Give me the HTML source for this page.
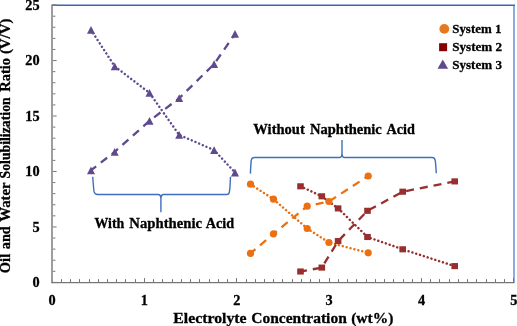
<!DOCTYPE html>
<html><head><meta charset="utf-8"><style>
html,body{margin:0;padding:0;background:#fff;}
svg{display:block;}
</style></head><body>
<svg width="517" height="326" viewBox="0 0 517 326">
<rect width="517" height="326" fill="#fff"/>
<line x1="52.1" y1="5.25" x2="515" y2="5.25" stroke="#3A68B0" stroke-width="1.5"/>
<line x1="514.0" y1="6.0" x2="514.0" y2="282.4" stroke="#8CABE0" stroke-width="2"/>
<path d="M52.1,282.40h4.5 M52.1,271.31h3.3 M52.1,260.22h3.3 M52.1,249.12h3.3 M52.1,238.03h3.3 M52.1,226.94h4.5 M52.1,215.85h3.3 M52.1,204.76h3.3 M52.1,193.66h3.3 M52.1,182.57h3.3 M52.1,171.48h4.5 M52.1,160.39h3.3 M52.1,149.30h3.3 M52.1,138.20h3.3 M52.1,127.11h3.3 M52.1,116.02h4.5 M52.1,104.93h3.3 M52.1,93.84h3.3 M52.1,82.74h3.3 M52.1,71.65h3.3 M52.1,60.56h4.5 M52.1,49.47h3.3 M52.1,38.38h3.3 M52.1,27.28h3.3 M52.1,16.19h3.3 M52.1,5.10h4.5 M52.50,282.4v-4.3 M61.50,282.4v-3.3 M70.50,282.4v-3.3 M79.50,282.4v-3.3 M89.50,282.4v-3.3 M98.50,282.4v-3.3 M107.50,282.4v-3.3 M116.50,282.4v-3.3 M125.50,282.4v-3.3 M135.50,282.4v-3.3 M144.50,282.4v-4.3 M153.50,282.4v-3.3 M162.50,282.4v-3.3 M172.50,282.4v-3.3 M181.50,282.4v-3.3 M190.50,282.4v-3.3 M199.50,282.4v-3.3 M209.50,282.4v-3.3 M218.50,282.4v-3.3 M227.50,282.4v-3.3 M236.50,282.4v-4.3 M246.50,282.4v-3.3 M255.50,282.4v-3.3 M264.50,282.4v-3.3 M273.50,282.4v-3.3 M282.50,282.4v-3.3 M292.50,282.4v-3.3 M301.50,282.4v-3.3 M310.50,282.4v-3.3 M319.50,282.4v-3.3 M329.50,282.4v-4.3 M338.50,282.4v-3.3 M347.50,282.4v-3.3 M356.50,282.4v-3.3 M366.50,282.4v-3.3 M375.50,282.4v-3.3 M384.50,282.4v-3.3 M393.50,282.4v-3.3 M403.50,282.4v-3.3 M412.50,282.4v-3.3 M421.50,282.4v-4.3 M430.50,282.4v-3.3 M439.50,282.4v-3.3 M449.50,282.4v-3.3 M458.50,282.4v-3.3 M467.50,282.4v-3.3 M476.50,282.4v-3.3 M486.50,282.4v-3.3 M495.50,282.4v-3.3 M504.50,282.4v-3.3 M513.50,282.4v-4.3" stroke="#777777" stroke-width="1"/>
<line x1="52.0" y1="4.5" x2="52.0" y2="283.2" stroke="#999999" stroke-width="1.9"/>
<line x1="52.0" y1="5.25" x2="56.8" y2="5.25" stroke="#7A7A7A" stroke-width="1.5"/>
<line x1="51.7" y1="282.6" x2="514.5" y2="282.6" stroke="#777777" stroke-width="1.3"/>
<path d="M92.7,176.8 Q93.6,189 94.1,191.9 Q94.8,194.5 97.5,194.5 L158.2,194.5 Q160.9,194.5 160.9,198.8 L160.9,212.2 M160.9,198.8 Q160.9,194.5 163.6,194.5 L226.9,194.5 Q229.0,194.5 229.4,191.9 Q230,189 230.5,176.8" fill="none" stroke="#3E6FBF" stroke-width="1.4"/>
<path d="M250.4,173.6 Q250.9,163 251.2,160.3 Q251.8,157.5 254.5,157.5 L339.3,157.5 Q342,157.5 342,152.9 L342,140.1 M342,152.9 Q342,157.5 344.7,157.5 L432,157.5 Q434.7,157.5 435.2,160.3 Q435.7,163 436.3,173.3" fill="none" stroke="#3E6FBF" stroke-width="1.4"/>
<polyline points="91.0,29.9 114.7,66.3 149.5,92.9 179.2,134.9 214.1,150.1 235.0,172.5" fill="none" stroke="#5F4A8E" stroke-width="2.5" stroke-dasharray="0.01 4.0" stroke-dashoffset="0" stroke-linecap="round" stroke-linejoin="round"/>
<polyline points="91.0,170.4 114.7,151.8 149.5,120.8 179.2,98.2 214.1,64.1 235.0,33.9" fill="none" stroke="#5F4A8E" stroke-width="2.3" stroke-dasharray="8 6" stroke-dashoffset="1.5" stroke-linecap="butt" stroke-linejoin="round"/>
<polyline points="250.5,184.2 273.5,199.2 307.2,228.5 328.9,242.5 368.2,252.8" fill="none" stroke="#EB7012" stroke-width="2.5" stroke-dasharray="0.01 4.0" stroke-dashoffset="0" stroke-linecap="round" stroke-linejoin="round"/>
<polyline points="250.5,253.4 273.5,233.8 307.2,206.2 328.9,201.5 368.2,176.0" fill="none" stroke="#EB7012" stroke-width="2.3" stroke-dasharray="8 6" stroke-dashoffset="1.5" stroke-linecap="butt" stroke-linejoin="round"/>
<polyline points="300.5,186.3 321.8,196.3 338.1,208.4 367.5,237.0 402.7,249.3 454.7,266.1" fill="none" stroke="#982E2E" stroke-width="2.5" stroke-dasharray="0.01 4.0" stroke-dashoffset="0" stroke-linecap="round" stroke-linejoin="round"/>
<polyline points="300.5,271.5 321.8,267.6 338.1,241.1 367.5,210.8 402.7,191.7 454.7,181.4" fill="none" stroke="#982E2E" stroke-width="2.3" stroke-dasharray="8 6" stroke-dashoffset="1.5" stroke-linecap="butt" stroke-linejoin="round"/>
<path d="M91.00,26.00 L95.00,33.80 L87.00,33.80 Z" fill="#5F4A8E"/>
<path d="M114.70,62.40 L118.70,70.20 L110.70,70.20 Z" fill="#5F4A8E"/>
<path d="M149.50,89.00 L153.50,96.80 L145.50,96.80 Z" fill="#5F4A8E"/>
<path d="M179.20,131.00 L183.20,138.80 L175.20,138.80 Z" fill="#5F4A8E"/>
<path d="M214.10,146.20 L218.10,154.00 L210.10,154.00 Z" fill="#5F4A8E"/>
<path d="M235.00,168.60 L239.00,176.40 L231.00,176.40 Z" fill="#5F4A8E"/>
<path d="M91.00,166.50 L95.00,174.30 L87.00,174.30 Z" fill="#5F4A8E"/>
<path d="M114.70,147.90 L118.70,155.70 L110.70,155.70 Z" fill="#5F4A8E"/>
<path d="M149.50,116.90 L153.50,124.70 L145.50,124.70 Z" fill="#5F4A8E"/>
<path d="M179.20,94.30 L183.20,102.10 L175.20,102.10 Z" fill="#5F4A8E"/>
<path d="M214.10,60.20 L218.10,68.00 L210.10,68.00 Z" fill="#5F4A8E"/>
<path d="M235.00,30.00 L239.00,37.80 L231.00,37.80 Z" fill="#5F4A8E"/>
<circle cx="250.50" cy="184.20" r="3.6" fill="#EB7012"/>
<circle cx="273.50" cy="199.20" r="3.6" fill="#EB7012"/>
<circle cx="307.20" cy="228.50" r="3.6" fill="#EB7012"/>
<circle cx="328.90" cy="242.50" r="3.6" fill="#EB7012"/>
<circle cx="368.20" cy="252.80" r="3.6" fill="#EB7012"/>
<circle cx="250.50" cy="253.40" r="3.6" fill="#EB7012"/>
<circle cx="273.50" cy="233.80" r="3.6" fill="#EB7012"/>
<circle cx="307.20" cy="206.20" r="3.6" fill="#EB7012"/>
<circle cx="328.90" cy="201.50" r="3.6" fill="#EB7012"/>
<circle cx="368.20" cy="176.00" r="3.6" fill="#EB7012"/>
<rect x="297.20" y="183.25" width="6.6" height="6.1" fill="#982E2E"/>
<rect x="318.50" y="193.25" width="6.6" height="6.1" fill="#982E2E"/>
<rect x="334.80" y="205.35" width="6.6" height="6.1" fill="#982E2E"/>
<rect x="364.20" y="233.95" width="6.6" height="6.1" fill="#982E2E"/>
<rect x="399.40" y="246.25" width="6.6" height="6.1" fill="#982E2E"/>
<rect x="451.40" y="263.05" width="6.6" height="6.1" fill="#982E2E"/>
<rect x="297.20" y="268.45" width="6.6" height="6.1" fill="#982E2E"/>
<rect x="318.50" y="264.55" width="6.6" height="6.1" fill="#982E2E"/>
<rect x="334.80" y="238.05" width="6.6" height="6.1" fill="#982E2E"/>
<rect x="364.20" y="207.75" width="6.6" height="6.1" fill="#982E2E"/>
<rect x="399.40" y="188.65" width="6.6" height="6.1" fill="#982E2E"/>
<rect x="451.40" y="178.35" width="6.6" height="6.1" fill="#982E2E"/>
<circle cx="444.30" cy="28.90" r="4.9" fill="#E67820"/>
<rect x="439.10" y="43.20" width="8.0" height="8.0" fill="#850000"/>
<path d="M442.80,59.50 L448.10,68.70 L437.50,68.70 Z" fill="#5F4A8E"/>
<g style="filter:blur(0px)">
<text x="452.22" y="32.7" font-family="Liberation Serif" font-weight="bold" stroke="#000" stroke-width="0.3" font-size="13.4" textLength="49.15" lengthAdjust="spacingAndGlyphs">System 1</text>
<text x="452.21" y="50.5" font-family="Liberation Serif" font-weight="bold" stroke="#000" stroke-width="0.3" font-size="13.4" textLength="49.96" lengthAdjust="spacingAndGlyphs">System 2</text>
<text x="452.21" y="68.7" font-family="Liberation Serif" font-weight="bold" stroke="#000" stroke-width="0.3" font-size="13.4" textLength="49.72" lengthAdjust="spacingAndGlyphs">System 3</text>
<text x="39.6" y="287.2" font-family="Liberation Serif" font-weight="bold" stroke="#000" stroke-width="0.3" font-size="14.3" text-anchor="end">0</text>
<text x="39.6" y="231.7" font-family="Liberation Serif" font-weight="bold" stroke="#000" stroke-width="0.3" font-size="14.3" text-anchor="end">5</text>
<text x="39.6" y="176.3" font-family="Liberation Serif" font-weight="bold" stroke="#000" stroke-width="0.3" font-size="14.3" text-anchor="end">10</text>
<text x="39.6" y="120.8" font-family="Liberation Serif" font-weight="bold" stroke="#000" stroke-width="0.3" font-size="14.3" text-anchor="end">15</text>
<text x="39.6" y="65.4" font-family="Liberation Serif" font-weight="bold" stroke="#000" stroke-width="0.3" font-size="14.3" text-anchor="end">20</text>
<text x="39.6" y="9.9" font-family="Liberation Serif" font-weight="bold" stroke="#000" stroke-width="0.3" font-size="14.3" text-anchor="end">25</text>
<text x="52.1" y="305.0" font-family="Liberation Serif" font-weight="bold" stroke="#000" stroke-width="0.3" font-size="14.3" text-anchor="middle">0</text>
<text x="144.4" y="305.0" font-family="Liberation Serif" font-weight="bold" stroke="#000" stroke-width="0.3" font-size="14.3" text-anchor="middle">1</text>
<text x="236.8" y="305.0" font-family="Liberation Serif" font-weight="bold" stroke="#000" stroke-width="0.3" font-size="14.3" text-anchor="middle">2</text>
<text x="329.1" y="305.0" font-family="Liberation Serif" font-weight="bold" stroke="#000" stroke-width="0.3" font-size="14.3" text-anchor="middle">3</text>
<text x="421.5" y="305.0" font-family="Liberation Serif" font-weight="bold" stroke="#000" stroke-width="0.3" font-size="14.3" text-anchor="middle">4</text>
<text x="513.9" y="305.0" font-family="Liberation Serif" font-weight="bold" stroke="#000" stroke-width="0.3" font-size="14.3" text-anchor="middle">5</text>
<text x="173.30" y="322.5" font-family="Liberation Serif" font-weight="bold" stroke="#000" stroke-width="0.3" font-size="15.4" textLength="73.30" lengthAdjust="spacingAndGlyphs">Electrolyte</text>
<text x="251.20" y="322.5" font-family="Liberation Serif" font-weight="bold" stroke="#000" stroke-width="0.3" font-size="15.4" textLength="95.60" lengthAdjust="spacingAndGlyphs">Concentration</text>
<text x="351.20" y="322.5" font-family="Liberation Serif" font-weight="bold" stroke="#000" stroke-width="0.3" font-size="15.4" textLength="42.16" lengthAdjust="spacingAndGlyphs">(wt%)</text>
<text transform="translate(10.0,273.20) rotate(-90)" x="0" y="0" font-family="Liberation Serif" font-weight="bold" stroke="#000" stroke-width="0.3" font-size="14.6" textLength="19.37" lengthAdjust="spacingAndGlyphs">Oil</text>
<text transform="translate(10.0,249.25) rotate(-90)" x="0" y="0" font-family="Liberation Serif" font-weight="bold" stroke="#000" stroke-width="0.3" font-size="14.6" textLength="23.08" lengthAdjust="spacingAndGlyphs">and</text>
<text transform="translate(10.0,221.70) rotate(-90)" x="0" y="0" font-family="Liberation Serif" font-weight="bold" stroke="#000" stroke-width="0.3" font-size="14.6" textLength="39.27" lengthAdjust="spacingAndGlyphs">Water</text>
<text transform="translate(10.0,178.51) rotate(-90)" x="0" y="0" font-family="Liberation Serif" font-weight="bold" stroke="#000" stroke-width="0.3" font-size="14.6" textLength="81.20" lengthAdjust="spacingAndGlyphs">Solubilization</text>
<text transform="translate(10.0,91.70) rotate(-90)" x="0" y="0" font-family="Liberation Serif" font-weight="bold" stroke="#000" stroke-width="0.3" font-size="14.6" textLength="33.60" lengthAdjust="spacingAndGlyphs">Ratio</text>
<text transform="translate(10.0,54.11) rotate(-90)" x="0" y="0" font-family="Liberation Serif" font-weight="bold" stroke="#000" stroke-width="0.3" font-size="14.6" textLength="35.53" lengthAdjust="spacingAndGlyphs">(V/V)</text>
<text x="94.40" y="227.6" font-family="Liberation Serif" font-weight="bold" stroke="#000" stroke-width="0.3" font-size="14.3" textLength="29.88" lengthAdjust="spacingAndGlyphs">With</text>
<text x="129.34" y="227.6" font-family="Liberation Serif" font-weight="bold" stroke="#000" stroke-width="0.3" font-size="14.3" textLength="72.67" lengthAdjust="spacingAndGlyphs">Naphthenic</text>
<text x="205.70" y="227.6" font-family="Liberation Serif" font-weight="bold" stroke="#000" stroke-width="0.3" font-size="14.3" textLength="28.39" lengthAdjust="spacingAndGlyphs">Acid</text>
<text x="253.30" y="134.1" font-family="Liberation Serif" font-weight="bold" stroke="#000" stroke-width="0.3" font-size="14.2" textLength="51.49" lengthAdjust="spacingAndGlyphs">Without</text>
<text x="310.00" y="134.1" font-family="Liberation Serif" font-weight="bold" stroke="#000" stroke-width="0.3" font-size="14.2" textLength="71.83" lengthAdjust="spacingAndGlyphs">Naphthenic</text>
<text x="386.50" y="134.1" font-family="Liberation Serif" font-weight="bold" stroke="#000" stroke-width="0.3" font-size="14.2" textLength="28.40" lengthAdjust="spacingAndGlyphs">Acid</text>
</g>
</svg>
</body></html>
